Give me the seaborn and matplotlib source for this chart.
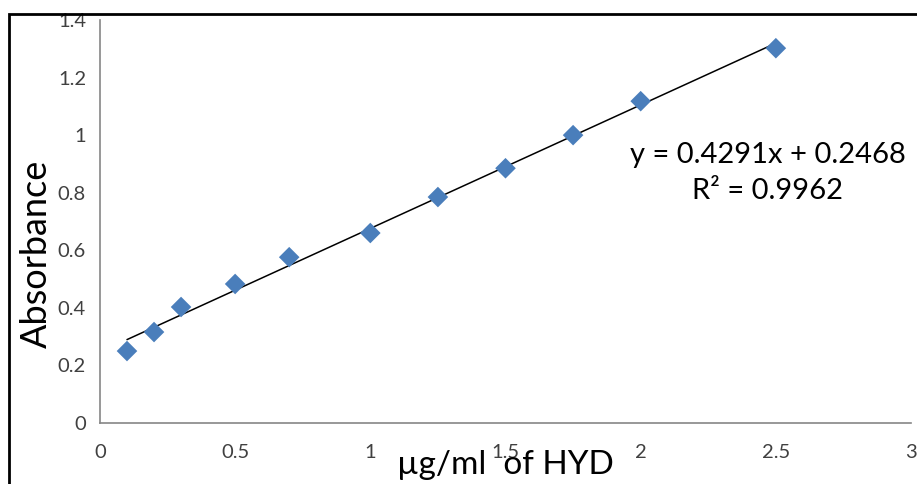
import numpy as np
import matplotlib.pyplot as plt
import seaborn as sns
from matplotlib.patches import Rectangle
from matplotlib.ticker import FormatStrFormatter

sns.set_style("white")
plt.rcParams['font.family'] = ['Lato', 'DejaVu Sans']

# concentration of HYD (ug/ml) and measured absorbance
conc = [0.1, 0.2, 0.3, 0.5, 0.7, 1.0, 1.25, 1.5, 1.75, 2.0, 2.5]
absorb = [0.25, 0.316, 0.403, 0.483, 0.576, 0.66, 0.785, 0.885, 1.0, 1.118, 1.302]

# linear trendline shown on the chart
slope = 0.4291
intercept = 0.2468
r2 = 0.9962

fig = plt.figure(figsize=(9.17, 4.84), dpi=100)
ax = fig.add_axes([0.109, 0.126, 0.8845, 0.8327])

# trendline over data range
xs = np.array([min(conc), max(conc)])
ax.plot(xs, slope * xs + intercept, color='black', lw=1.1, zorder=2)

sns.scatterplot(x=conc, y=absorb, marker='D', s=110, color='#4a7ebb',
                edgecolor='none', ax=ax, zorder=3)

ax.set_xlim(0, 3)
ax.set_ylim(0, 1.4)
ax.set_xticks([0, 0.5, 1, 1.5, 2, 2.5, 3])
ax.set_yticks([0, 0.2, 0.4, 0.6, 0.8, 1, 1.2, 1.4])
ax.xaxis.set_major_formatter(FormatStrFormatter('%g'))
ax.yaxis.set_major_formatter(FormatStrFormatter('%g'))

for s in ['top', 'right']:
    ax.spines[s].set_visible(False)
for s in ['left', 'bottom']:
    ax.spines[s].set_color('#868686')
    ax.spines[s].set_linewidth(1.2)

ax.tick_params(axis='both', direction='out', length=6, width=1.2,
               color='#868686', labelcolor='#404040', labelsize=14.5)
ax.tick_params(axis='x', pad=9)
ax.tick_params(axis='y', pad=4)

ax.set_xlabel('µg/ml  of HYD', fontsize=24, color='black', labelpad=-8)
ax.set_ylabel('Absorbance', fontsize=26, color='black')
ax.yaxis.set_label_coords(-0.058, 0.42)

ax.text(2.47, 0.868, f'y = {slope}x + {intercept}\nR² = {r2}',
        fontsize=21, color='black', ha='center', va='center',
        multialignment='center', linespacing=1.45)

# outer chart frame (cropped at right and bottom)
fig.patches.append(Rectangle((9 / 917, -0.1), 1.1, 0.1 + (484 - 14) / 484,
                             transform=fig.transFigure, fill=False,
                             edgecolor='black', lw=2, clip_on=False))

fig.savefig('out.png', dpi=100)
